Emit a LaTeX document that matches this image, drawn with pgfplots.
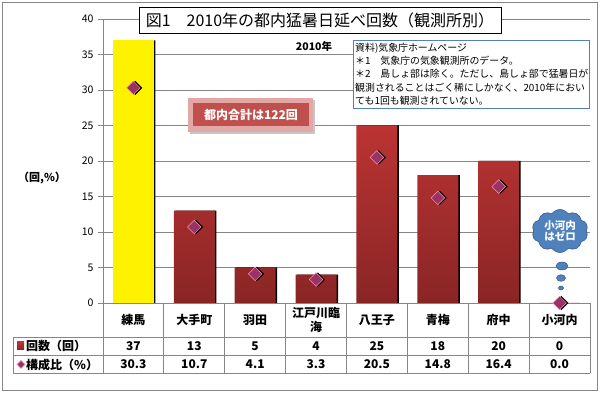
\documentclass[border=0pt]{standalone}
\usepackage{pgfplots}
\pgfplotsset{compat=1.18}
\usepackage{fontspec}
\setmainfont{Noto Sans CJK JP}
\newfontfamily\jp{Noto Sans CJK JP}
\usetikzlibrary{shapes.symbols}
\definecolor{gridgray}{HTML}{868686}
\definecolor{bartop}{HTML}{BA3433}
\definecolor{barbot}{HTML}{8A2525}
\definecolor{mkfill}{HTML}{993366}
\definecolor{mkdraw}{HTML}{FF8FB0}
\definecolor{boxblue}{HTML}{4F81BD}
\definecolor{cloudedge}{HTML}{385D8A}
\definecolor{btnred}{HTML}{C0504D}
\definecolor{btnlight}{HTML}{E3A8A6}
\newcommand{\fs}[1]{\fontsize{#1}{#1}\selectfont}
\begin{document}
\begin{tikzpicture}[x=1pt,y=1pt]
\path[use as bounding box] (0,0) rectangle (600,395);
\begin{scope}[shift={(0,395)},y=-1pt]
% outer border
\draw[gridgray,line width=1pt] (2.5,2.5) rectangle (597,391);
% table lines
\foreach \yy in {337,355,373} \draw[gridgray,line width=0.9pt] (13,\yy) -- (590,\yy);
\draw[gridgray,line width=0.9pt] (13,337) -- (13,373);
\foreach \i in {0,...,8} \draw[gridgray,line width=0.9pt] ({103+60.875*\i},303) -- ({103+60.875*\i},373);
\end{scope}

\begin{axis}[
  at={(103pt,92pt)}, anchor=south west,
  scale only axis, width=487pt, height=284pt,
  xmin=-0.5, xmax=7.5, ymin=0, ymax=40,
  ytick={0,5,...,40}, xtick=\empty,
  ymajorgrids, grid style={draw=gridgray, line width=0.9pt},
  axis x line*=bottom, axis y line*=left,
  axis line style={draw=gridgray, line width=0.9pt, -},
  y tick style={draw=gridgray, line width=0.9pt},
  tick align=outside, major tick length=5pt,
  /pgf/number format/assume math mode=true,
  y tick label style={font=\jp\fs{10.5}, xshift=-1pt},
  clip=false,
]
% shadows of bars
\addplot[ybar, bar width=41pt, bar shift=1.5pt, fill=black, draw=none] coordinates {(0,37) (1,13) (2,5) (3,4) (4,25) (5,18) (6,20)};
% yellow bar
\addplot[ybar, bar width=41pt, bar shift=0pt, fill=yellow, draw=none] coordinates {(0,37)};
% red bars
\addplot[ybar, bar width=41pt, bar shift=0pt, draw=none, top color=bartop, bottom color=barbot] coordinates {(1,13) (2,5) (3,4) (4,25) (5,18) (6,20) (7,0)};
% marker shadows
\addplot[only marks, mark=square*, mark size=4.8pt, mark options={rotate=45, fill=black, draw=black, xshift=1.3pt, yshift=-1.3pt}] coordinates {(0,30.3) (1,10.7) (2,4.1) (3,3.3) (4,20.5) (5,14.8) (6,16.4) (7,0.0)};
% markers
\addplot[only marks, mark=square*, mark size=4.8pt, mark options={rotate=45, fill=mkfill, draw=mkdraw, line width=0.5pt}] coordinates {(0,30.3) (1,10.7) (2,4.1) (3,3.3) (4,20.5) (5,14.8) (6,16.4) (7,0.0)};
\end{axis}

\begin{scope}[shift={(0,395)},y=-1pt]
% table text
\foreach \n/\i in {練馬/0,大手町/1,羽田/2,八王子/4,青梅/5,府中/6,小河内/7}
  \node[font=\jp\bfseries\fs{12}] at ({133.4+60.875*\i},320) {\n};
\node[font=\jp\bfseries\fs{12}, align=center, inner sep=0pt] at ({133.4+60.875*3},320) {江戸川臨\\[2pt]海};
\foreach \n/\i in {37/0,13/1,5/2,4/3,25/4,18/5,20/6,0/7}
  \node[font=\jp\bfseries\fs{12}] at ({133.4+60.875*\i},346) {\n};
\foreach \n/\i in {30.3/0,10.7/1,4.1/2,3.3/3,20.5/4,14.8/5,16.4/6,0.0/7}
  \node[font=\jp\bfseries\fs{12}] at ({133.4+60.875*\i},364.5) {\n};
% legend column
\shade[top color=bartop,bottom color=barbot] (17,342) rectangle (24,350);
\node[font=\jp\bfseries\fs{12}, anchor=west, inner sep=0pt] at (26,346) {回数（回）};
\fill[mkfill,draw=mkdraw,line width=0.4pt] (21,360.5) -- (25,364.5) -- (21,368.5) -- (17,364.5) -- cycle;
\node[font=\jp\bfseries\fs{12}, anchor=west, inner sep=0pt] at (26,364.5) {構成比（\%）};
% y label
\node[font=\jp\bfseries\fs{11}] at (42,178) {（回,\%）};
% title
\draw[black,fill=white,line width=0.9pt] (139,7) rectangle (501,33);
\node[font=\jp\fs{16}] at (320,20) {図1　2010年の都内猛暑日延べ回数（観測所別）};
% 2010
\node[font=\jp\bfseries\fs{10.5}] at (314,46) {2010年};
% note box
\draw[boxblue,fill=white,line width=0.8pt] (353,40) rectangle (589,108);
\begin{scope}[every node/.style={font=\jp\fs{9.9}, anchor=west, inner sep=0pt}]
\node at (355,48) {資料)気象庁ホームページ};
\node at (355,61) {＊1　気象庁の気象観測所のデータ。};
\node at (355,74) {＊2　島しょ部は除く。ただし、島しょ部で猛暑日が};
\node at (355,88) {観測されることはごく稀にしかなく、2010年におい};
\node at (355,101) {ても1回も観測されていない。};
\end{scope}
% button
\fill[gray!45] (190,100) rectangle (315,134);
\fill[btnlight] (188,98) rectangle (313,132);
\fill[btnred] (193,103) rectangle (309,126);
\node[font=\jp\bfseries\fs{12}, text=white] at (251,114.5) {都内合計は122回};
% cloud
\node[cloud, cloud puffs=10, cloud puff arc=110, aspect=1.3, draw=cloudedge, fill=boxblue, line width=0.6pt, minimum width=56pt, minimum height=43pt, inner sep=0pt, font=\jp\bfseries\fs{10.5}, text=white, align=center] at (560,231) {小河内\\[1pt]はゼロ};
\filldraw[fill=boxblue,draw=cloudedge,line width=0.5pt] (562,266) ellipse (6 and 4);
\filldraw[fill=boxblue,draw=cloudedge,line width=0.5pt] (561,278) ellipse (4.5 and 3.3);
\filldraw[fill=boxblue,draw=cloudedge,line width=0.5pt] (561,288) ellipse (2.5 and 2);
\end{scope}
\end{tikzpicture}
\end{document}
